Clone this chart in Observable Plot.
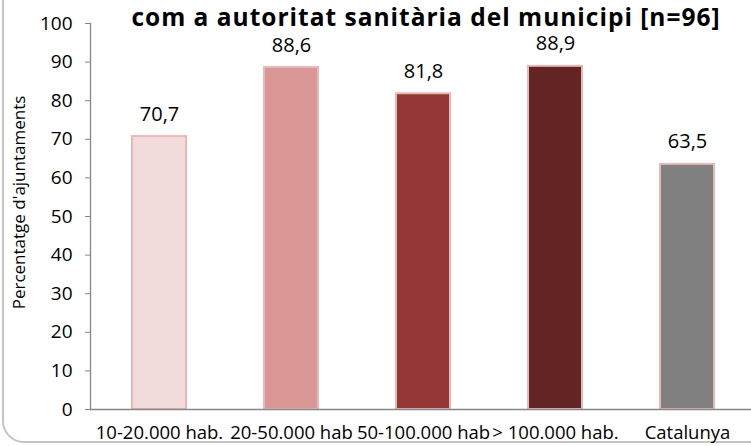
<!DOCTYPE html>
<html>
<head>
<meta charset="utf-8">
<script src="https://cdn.jsdelivr.net/npm/d3@7"></script>
<script src="https://cdn.jsdelivr.net/npm/@observablehq/plot@0.6"></script>
<style>
  html, body { margin: 0; padding: 0; background: white; }
  #wrap { position: relative; width: 751px; height: 446px; overflow: hidden; font-family: "Open Sans", sans-serif; }
  #border { position: absolute; left: 2px; top: -40px; width: 800px; height: 483px; border: 2px solid #c4c4c4; border-radius: 22px; box-sizing: border-box; }
  #title { position: absolute; left: 0; top: 4.5px; width: 852px; text-align: center; font-size: 24.5px; letter-spacing: 1px; font-weight: bold; color: #000; line-height: 24px; white-space: nowrap; }
  #chart { position: absolute; left: 0; top: 0; }
</style>
</head>
<body>
<div id="wrap">
  <div id="border"></div>
  <div id="chart"></div>
  <div id="title">com a autoritat sanitària del municipi [n=96]</div>
</div>
<script>
const categories = ["10-20.000 hab.", "20-50.000 hab", "50-100.000 hab", "> 100.000 hab.", "Catalunya"];
const values = [70.7, 88.6, 81.8, 88.9, 63.5];
const colors = ["#f2dcdb", "#d99694", "#953735", "#632523", "#808080"];
const yTicks = [0, 10, 20, 30, 40, 50, 60, 70, 80, 90, 100];
const yLabel = "Percentatge d'ajuntaments";

const data = categories.map((c, i) => ({cat: c, value: values[i], color: colors[i]}));
const fmt = v => v.toFixed(1).replace(".", ",");

const chart = Plot.plot({
  width: 751,
  height: 446,
  marginLeft: 90,
  marginRight: 0,
  marginTop: 23,
  marginBottom: 37,
  style: {background: "transparent", fontFamily: "Open Sans, sans-serif", color: "#000"},
  x: {domain: categories, range: [92, 755], paddingInner: 0.59, paddingOuter: 0.295, align: 0.5},
  y: {domain: [0, 100], range: [409, 23]},
  marks: [
    Plot.barY(data, {x: "cat", y: "value", fill: "color", stroke: "#e6b9b8", strokeWidth: 2}),
    Plot.text(data, {x: "cat", y: "value", text: d => fmt(d.value), lineAnchor: "bottom", dy: -16, fontSize: 20, fill: "#000"}),
    Plot.frame({anchor: "left", stroke: "#868686", strokeWidth: 1.3}),
    Plot.ruleY([0], {stroke: "#868686", strokeWidth: 1.3}),
    Plot.axisY({ticks: yTicks, tickSize: 5, tickPadding: 13, stroke: "#868686", label: null, fontSize: 19, tickFormat: d => String(d)}),
    Plot.axisX({tickSize: 0, tickPadding: 16, label: null, fontSize: 18.5}),
    Plot.text([yLabel], {text: d => d, frameAnchor: "left", textAnchor: "middle", rotate: -90, dx: -71, dy: -14, fontSize: 17, fill: "#000"})
  ]
});
document.getElementById("chart").appendChild(chart);
</script>
</body>
</html>
